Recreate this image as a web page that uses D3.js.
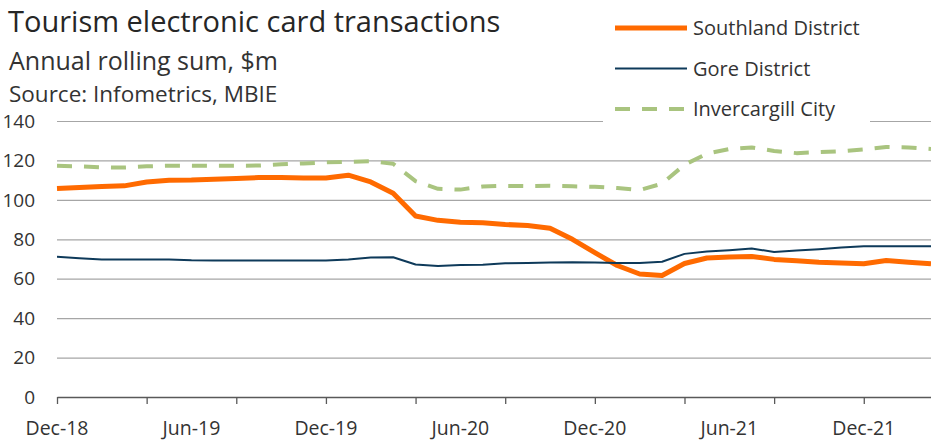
<!DOCTYPE html>
<html lang="en">
<head>
    <meta charset="UTF-8">
    <title>Tourism electronic card transactions</title>
    <script src="https://d3js.org/d3.v7.min.js"></script>
    <style>
        body {
            margin: 0;
            background: #fff;
        }
        svg text {
            font-family: "Open Sans", sans-serif;
            fill: #333;
        }
        .grid line {
            stroke: #a6a6a6;
            stroke-width: 1.2;
        }
    </style>
</head>
<body>
    <div id="chart"></div>
    <script>
        const width = 931;
        const height = 443;

        // months, Dec-18 to Mar-22
        const months = [
            "Dec-18", "Jan-19", "Feb-19", "Mar-19", "Apr-19", "May-19", "Jun-19", "Jul-19", "Aug-19", "Sep-19",
            "Oct-19", "Nov-19", "Dec-19", "Jan-20", "Feb-20", "Mar-20", "Apr-20", "May-20", "Jun-20", "Jul-20",
            "Aug-20", "Sep-20", "Oct-20", "Nov-20", "Dec-20", "Jan-21", "Feb-21", "Mar-21", "Apr-21", "May-21",
            "Jun-21", "Jul-21", "Aug-21", "Sep-21", "Oct-21", "Nov-21", "Dec-21", "Jan-22", "Feb-22", "Mar-22"
        ];
        const labelMonths = ["Dec-18", "Jun-19", "Dec-19", "Jun-20", "Dec-20", "Jun-21", "Dec-21"];
        const yTicks = [0, 20, 40, 60, 80, 100, 120, 140];

        const southland = [
            105.8, 106.3, 106.8, 107.1, 109.1, 110.0, 110.1, 110.5, 110.8, 111.3,
            111.3, 111.1, 111.1, 112.5, 109.1, 103.4, 91.8, 89.6, 88.7, 88.4,
            87.5, 87.0, 85.6, 80.0, 73.2, 66.7, 62.4, 61.6, 67.7, 70.5,
            71.0, 71.3, 69.8, 69.1, 68.4, 68.0, 67.6, 69.2, 68.4, 67.6
        ];
        const gore = [
            71.1, 70.4, 69.8, 69.8, 69.8, 69.8, 69.4, 69.3, 69.3, 69.3,
            69.3, 69.3, 69.2, 69.8, 70.7, 70.9, 67.2, 66.5, 67.0, 67.1,
            67.8, 68.0, 68.2, 68.4, 68.2, 68.0, 68.0, 68.6, 72.6, 73.8,
            74.5, 75.3, 73.6, 74.3, 75.0, 75.8, 76.5, 76.5, 76.5, 76.5
        ];
        const invercargill = [
            117.3, 117.0, 116.5, 116.4, 117.0, 117.3, 117.3, 117.3, 117.3, 117.4,
            118.0, 118.5, 119.0, 119.3, 119.6, 118.3, 109.5, 105.6, 105.2, 106.8,
            107.1, 107.0, 107.1, 106.9, 106.6, 106.0, 105.0, 108.2, 117.8, 123.4,
            125.8, 126.6, 124.8, 123.7, 124.2, 124.7, 125.6, 126.8, 126.6, 125.8
        ];

        const series = [
            { name: "Southland District", values: southland, color: "#ff6a00", width: 5, dash: null },
            { name: "Gore District", values: gore, color: "#0e3a5a", width: 2, dash: null },
            { name: "Invercargill City", values: invercargill, color: "#a9c47f", width: 4, dash: "15,12" }
        ];

        const svg = d3.select("#chart")
            .append("svg")
            .attr("width", width)
            .attr("height", height);

        const x = d3.scalePoint()
            .domain(months)
            .range([57, 931]);

        const y = d3.scaleLinear()
            .domain([0, 140])
            .range([397, 121]);

        // gridlines
        svg.append("g")
            .attr("class", "grid")
            .attr("transform", "translate(57,0)")
            .call(d3.axisLeft(y).tickValues(yTicks.slice(1)).tickSize(-(931 - 57)).tickFormat(""))
            .call(g => g.select(".domain").remove());

        // y labels
        svg.append("g")
            .selectAll("text")
            .data(yTicks)
            .enter()
            .append("text")
            .attr("x", 35)
            .attr("y", d => y(d))
            .attr("dy", "0.35em")
            .attr("text-anchor", "end")
            .style("font-size", "19px")
            .text(d => d);

        // lines
        const line = d3.line()
            .x((d, i) => x(months[i]))
            .y(d => y(d));

        svg.append("g")
            .selectAll("path")
            .data(series)
            .enter()
            .append("path")
            .attr("d", d => line(d.values))
            .attr("fill", "none")
            .attr("stroke", d => d.color)
            .attr("stroke-width", d => d.width)
            .attr("stroke-dasharray", d => d.dash)
            .attr("stroke-linejoin", "round");

        // x axis
        const xAxis = svg.append("g")
            .attr("transform", "translate(0,397)")
            .call(d3.axisBottom(x)
                .tickValues(months.filter((m, i) => i % 4 === 0))
                .tickSize(7)
                .tickSizeOuter(0)
                .tickFormat(""));
        xAxis.select(".domain").attr("stroke", "#595959").attr("stroke-width", 1.3);
        xAxis.selectAll(".tick line").attr("stroke", "#595959").attr("stroke-width", 1.3);

        svg.append("g")
            .selectAll("text")
            .data(labelMonths)
            .enter()
            .append("text")
            .attr("x", d => x(d))
            .attr("y", 435)
            .attr("text-anchor", "middle")
            .style("font-size", "19.5px")
            .text(d => d);

        // legend with white background
        svg.append("rect")
            .attr("x", 603)
            .attr("y", 0)
            .attr("width", 267)
            .attr("height", 124)
            .attr("fill", "#fff");

        const legendItems = svg.append("g")
            .selectAll("g")
            .data(series)
            .enter()
            .append("g")
            .attr("transform", (d, i) => `translate(615, ${28 + i * 40.5})`);

        legendItems.append("line")
            .attr("x1", 0)
            .attr("x2", d => d.dash ? 70 : 72)
            .attr("stroke", d => d.color)
            .attr("stroke-width", d => d.width)
            .attr("stroke-dasharray", d => d.dash ? "15,12" : null);

        legendItems.append("text")
            .attr("x", 78)
            .attr("y", 7)
            .style("font-size", "20px")
            .text(d => d.name);

        // titles
        svg.append("text")
            .attr("x", 8)
            .attr("y", 32)
            .style("font-size", "29px")
            .style("fill", "#262626")
            .text("Tourism electronic card transactions");

        svg.append("text")
            .attr("x", 9)
            .attr("y", 70)
            .style("font-size", "25px")
            .text("Annual rolling sum, $m");

        svg.append("text")
            .attr("x", 9)
            .attr("y", 102)
            .style("font-size", "22.5px")
            .text("Source: Infometrics, MBIE");
    </script>
</body>
</html>
